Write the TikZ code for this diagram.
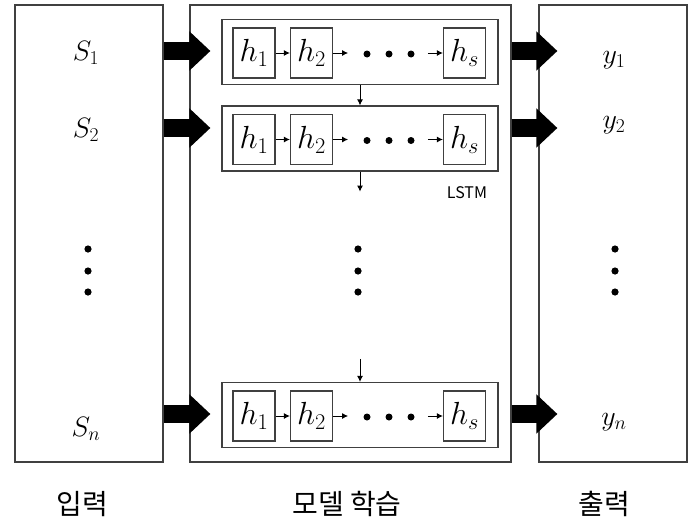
\documentclass[tikz,border=0pt]{standalone}
\usepackage{fix-cm}
\usepackage{fontspec}
\newfontfamily\krfont{Noto Sans CJK KR}
\usetikzlibrary{arrows.meta,calc}
\tikzset{
    panel/.style={draw=black!75,line width=1.2pt,rectangle,inner sep=0pt},
    rowbox/.style={panel,minimum width=276pt,minimum height=65pt},
    hbox/.style={panel,minimum width=42pt,minimum height=50pt,
        font=\fontsize{32}{32}\selectfont},
    lbl/.style={anchor=base,font=\fontsize{28}{28}\selectfont},
    caption/.style={font=\krfont\fontsize{28}{28}\selectfont},
    bigarrow/.style={line width=18pt,-{Triangle[length=21pt,width=38pt]}},
    smallarrow/.style={line width=1pt,-{Latex[length=6pt,width=6pt]}},
}
\begin{document}
\begin{tikzpicture}[x=1pt,y=-1pt]
        \useasboundingbox (0,0) rectangle (692,522);
        %% Panels
        \node[panel,minimum width=148pt,minimum height=457pt] (inp) at (89,233.5) {};
        \node[panel,minimum width=321pt,minimum height=457pt] (mdl) at (350.5,233.5) {};
        \node[panel,minimum width=148pt,minimum height=457pt] (outp) at (613,233.5) {};
        %% LSTM rows
        \foreach \r/\y in {1/52,2/138.5,n/415}{
            \node[rowbox] (row\r) at (360,\y) {};
            \node[hbox] (h1\r) at (254,\y+1) {$h_1$};
            \node[hbox] (h2\r) at (311.5,\y+1) {$h_2$};
            \node[hbox] (hs\r) at (464.5,\y+1) {$h_s$};
            \foreach \x in {367,389,411}
                \fill (\x,\y+2) circle (3.5);
            \draw[smallarrow] (h1\r) -- (h2\r);
            \draw[smallarrow] (h2\r.east) -- ++(15,0);
            \draw[smallarrow] ($(hs\r.west)+(-15,0)$) -- (hs\r.west);
        }
        \draw[smallarrow] (row1) -- (row2);
        \draw[smallarrow] (row2.south) -- ++(0,20);
        \draw[smallarrow] ($(rown.north)+(0,-23)$) -- (rown.north);
        \node[font=\krfont\fontsize{16}{16}\selectfont] (lstm) at (467,193) {LSTM};
        %% Inputs and outputs
        \node[lbl] (s1) at (86,60) {$S_1$};
        \node[lbl] (s2) at (86,137) {$S_2$};
        \node[lbl] (sn) at (86,436) {$S_n$};
        \node[lbl] (y1) at (614,63) {$y_1$};
        \node[lbl] (y2) at (614,128) {$y_2$};
        \node[lbl] (yn) at (614,425) {$y_n$};
        %% Vertical dots
        \foreach \x in {88,358,615}
            \foreach \y in {249,271,292}
                \fill (\x,\y) circle (3.6);
        %% Block arrows
        \draw[bigarrow] (inp.east |- 0,51) -- ($(row1.west |- 0,51)+(-11,0)$);
        \draw[bigarrow] (inp.east |- 0,128) -- ($(row2.west |- 0,128)+(-11,0)$);
        \draw[bigarrow] (inp.east |- 0,414) -- ($(rown.west |- 0,414)+(-11,0)$);
        \draw[bigarrow] (mdl.east |- 0,51) -- ($(outp.west |- 0,51)+(19,0)$);
        \draw[bigarrow] (mdl.east |- 0,128) -- ($(outp.west |- 0,128)+(19,0)$);
        \draw[bigarrow] (mdl.east |- 0,414) -- ($(outp.west |- 0,414)+(19,0)$);
        %% Captions
        \node[caption] (capin) at (82,504) {입력};
        \node[caption] (capmdl) at (347,504) {모델 학습};
        \node[caption] (capout) at (604,504) {출력};
\end{tikzpicture}
\end{document}
